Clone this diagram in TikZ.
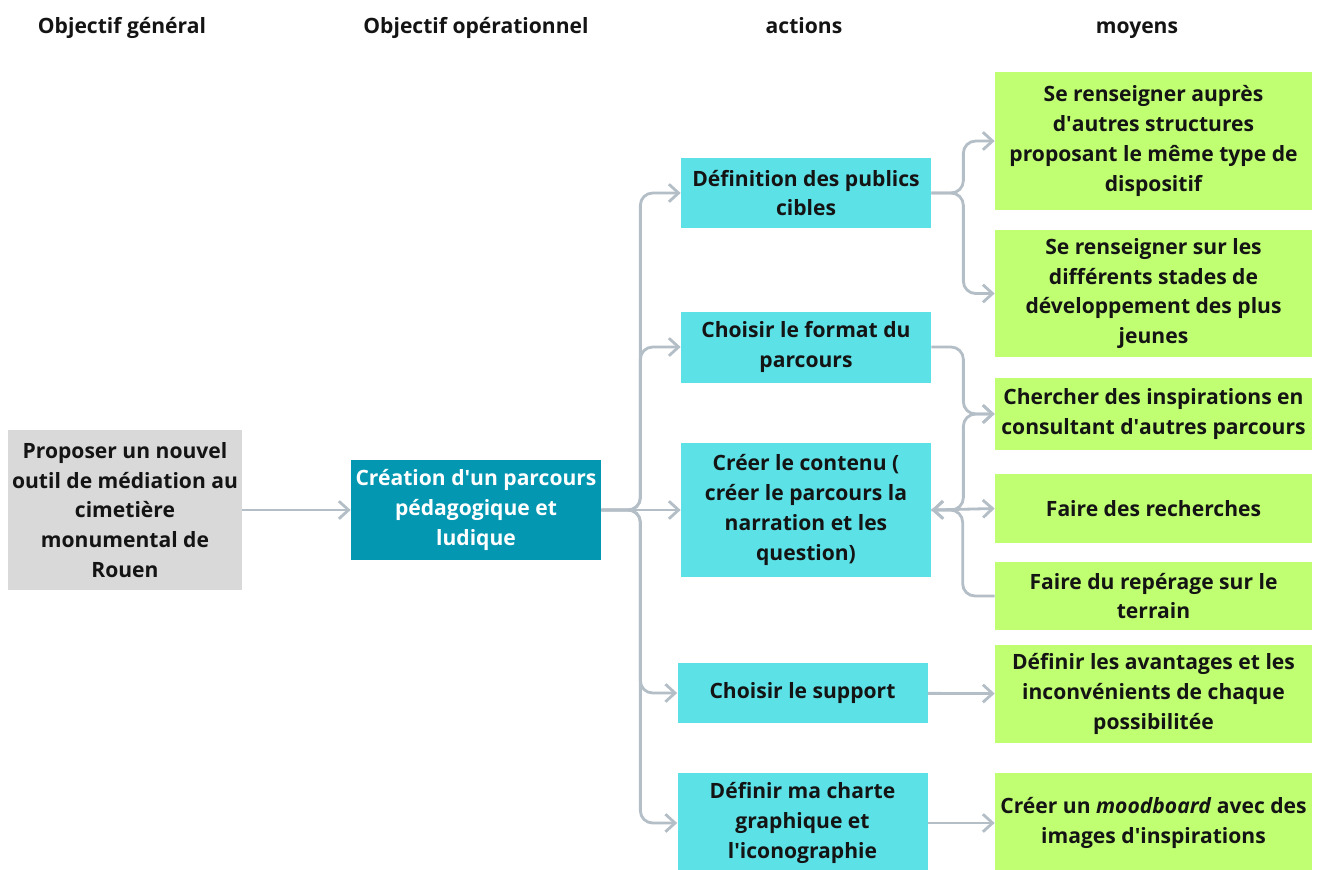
\documentclass[tikz,border=0pt]{standalone}
\usepackage{fontspec}
\setmainfont{Open Sans}
\usetikzlibrary{arrows.meta, positioning}
\definecolor{grisbox}{HTML}{D9D9D9}
\definecolor{opbox}{HTML}{0397B2}
\definecolor{actbox}{HTML}{5CE1E6}
\definecolor{moybox}{HTML}{C1FF72}
\definecolor{lien}{HTML}{B3BEC6}
\begin{document}
\begin{tikzpicture}[
    box/.style={rectangle, inner sep=0pt, align=center, text=black!92, font=\fontsize{12}{17}\selectfont\bfseries},
    general/.style={box, fill=grisbox, minimum width=4.68cm, minimum height=3.2cm},
    oper/.style={box, fill=opbox, text=white, minimum width=5cm, minimum height=2cm},
    action/.style={box, fill=actbox, minimum width=5cm},
    moyen/.style={box, fill=moybox, minimum width=6.34cm},
    title/.style={anchor=base, font=\fontsize{12}{17}\selectfont\bfseries, text=black!92},
    arrow/.style={->, >={Straight Barb[length=5.5pt, width=10pt]}, line width=1.6pt, draw=lien, rounded corners=7pt}
]
    \useasboundingbox (0,0) rectangle (26.4,-17.4);

    \node[title] (t1) at (2.44,-0.66) {Objectif général};
    \node[title] (t2) at (9.52,-0.66) {Objectif opérationnel};
    \node[title] (t3) at (16.08,-0.66) {actions};
    \node[title] (t4) at (22.74,-0.66) {moyens};

    \node[general] (general) at (2.5,-10.2) {Proposer un nouvel\\outil de médiation au\\cimetière\\monumental de\\Rouen};
    \node[oper] (oper) at (9.52,-10.2) {Création d\textquotesingle un parcours\\pédagogique et\\ludique};

    \node[action, minimum height=1.4cm] (publics) at (16.12,-3.86) {Définition des publics\\cibles};
    \node[action, minimum height=1.42cm] (format) at (16.12,-6.94) {Choisir le format du\\parcours};
    \node[action, minimum height=2.68cm] (contenu) at (16.12,-10.2) {Créer le contenu (\\créer le parcours la\\narration et les\\question)};
    \node[action, minimum height=1.2cm] (support) at (16.05,-13.86) {Choisir le support};
    \node[action, minimum height=2cm] (charte) at (16.05,-16.46) {Définir ma charte\\graphique et\\l\textquotesingle iconographie};

    \node[moyen, minimum height=2.76cm] (autres) at (23.07,-2.82) {Se renseigner auprès\\d\textquotesingle autres structures\\proposant le même type de\\dispositif};
    \node[moyen, minimum height=2.54cm] (stades) at (23.07,-5.87) {Se renseigner sur les\\différents stades de\\développement des plus\\jeunes};
    \node[moyen, minimum height=1.44cm] (inspi) at (23.07,-8.28) {Chercher des inspirations en\\consultant d\textquotesingle autres parcours};
    \node[moyen, minimum height=1.38cm] (recherches) at (23.07,-10.17) {Faire des recherches};
    \node[moyen, minimum height=1.36cm] (reperage) at (23.07,-11.92) {Faire du repérage sur le\\terrain};
    \node[moyen, minimum height=1.96cm] (avantages) at (23.07,-13.88) {Définir les avantages et les\\inconvénients de chaque\\possibilitée};
    \node[moyen, minimum height=2cm] (moodboard) at (23.07,-16.46) {Créer un \textit{moodboard} avec des\\images d\textquotesingle inspirations};

    \draw[arrow] (general) -- (oper);
    \draw[arrow] (oper.east) -- ++(0.78,0) |- (publics.west);
    \draw[arrow] (oper.east) -- ++(0.78,0) |- (format.west);
    \draw[arrow] (oper.east) -- (contenu.west);
    \draw[arrow] (oper.east) -- ++(0.78,0) |- (support.west);
    \draw[arrow] (oper.east) -- ++(0.78,0) |- (charte.west);

    \draw[arrow] (publics.east) -- ++(0.64,0) |- (autres.west);
    \draw[arrow] (publics.east) -- ++(0.64,0) |- (stades.west);
    \draw[arrow] (format.east) -- ++(0.64,0) |- (inspi.west);
    \draw[arrow] (contenu.east) -- ++(0.64,0) |- (inspi.west);
    \draw[arrow, <->] (contenu.east) -- (recherches.west);
    \draw[arrow] (reperage.west) -- ++(-0.64,0) |- (contenu.east);
    \draw[arrow] (support) -- (avantages);
    \draw[arrow] (charte) -- (moodboard);
\end{tikzpicture}
\end{document}
